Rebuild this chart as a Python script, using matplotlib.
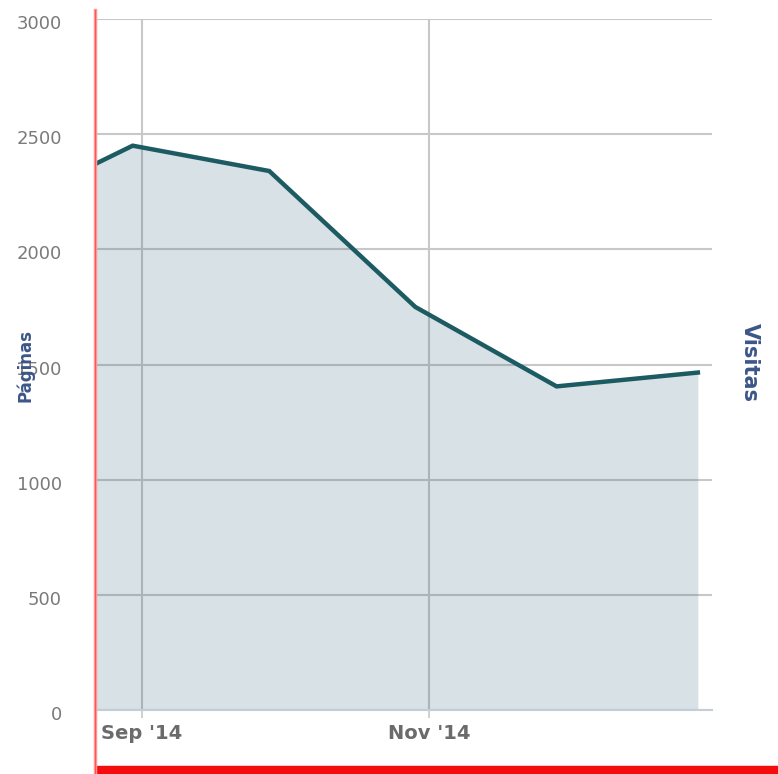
import numpy as np
import pandas as pd
import matplotlib
matplotlib.use("Agg")
import matplotlib.pyplot as plt
import matplotlib.transforms as mtransforms
from matplotlib.lines import Line2D
from matplotlib.patches import Rectangle

# monthly visits
dates = pd.to_datetime(["2014-08-22", "2014-08-30", "2014-09-28",
                        "2014-10-29", "2014-11-28", "2014-12-28"])
visitas = [2370, 2450, 2340, 1750, 1405, 1465]

x_ticks = pd.to_datetime(["2014-09-01", "2014-11-01"])
x_labels = ["Sep '14", "Nov '14"]
y_ticks = [0, 500, 1000, 1500, 2000, 2500, 3000]

fig = plt.figure(figsize=(7.78, 7.74), dpi=100)
ax = fig.add_axes([95 / 778, 64 / 774, 617 / 778, 691 / 774])

ax.fill_between(dates, visitas, 0, color="#2a5a72", alpha=0.18, linewidth=0, zorder=2)
ax.plot(dates, visitas, color="#1d5b63", linewidth=3.2, solid_joinstyle="miter", zorder=3)

ax.set_xlim(pd.Timestamp("2014-08-22"), pd.Timestamp("2014-12-31"))
ax.set_ylim(0, 3000)

ax.set_xticks(x_ticks)
ax.set_xticklabels(x_labels)
ax.set_yticks(y_ticks)
ax.set_yticklabels([str(v) for v in y_ticks])

ax.grid(True, color="#c8c8c8", linewidth=1.5, zorder=1)
ax.set_axisbelow(True)

ax.tick_params(axis="x", length=6, width=1.2, color="#c8c8c8", pad=4,
               labelsize=14, labelcolor="#6b6b6b")
for lab in ax.get_xticklabels():
    lab.set_fontweight("bold")
ax.tick_params(axis="y", length=0, pad=24, labelsize=13, labelcolor="#7a7a7a")
# labels sit a few pixels under their grid lines in the original
shift = mtransforms.ScaledTranslation(0, -3 / 100, fig.dpi_scale_trans)
for lab in ax.get_yticklabels():
    lab.set_transform(lab.get_transform() + shift)

for s in ["top", "right", "left"]:
    ax.spines[s].set_visible(False)
ax.spines["bottom"].set_color("#c3ced8")
ax.spines["bottom"].set_linewidth(1.5)

fig.text(25 / 778, 1 - 366 / 774, "Páginas", rotation=90, ha="center", va="center",
         fontsize=12, fontweight="bold", color="#3b5688")
fig.text(750 / 778, 1 - 363 / 774, "Visitas", rotation=270, ha="center", va="center",
         fontsize=15, fontweight="bold", color="#3b5688")

# red frame pieces from the original screenshot
fig.add_artist(Line2D([95 / 778, 95 / 778], [0, 1 - 10 / 774], color="#ff9a9a", linewidth=2.5))
fig.add_artist(Line2D([95 / 778, 95 / 778], [0, 1 - 10 / 774], color="#ff5555", linewidth=0.8))
fig.add_artist(Rectangle((95 / 778, 0), 1 - 95 / 778, 8 / 774, color="#f50d0d",
                         transform=fig.transFigure))

fig.savefig("out.png", dpi=100)
